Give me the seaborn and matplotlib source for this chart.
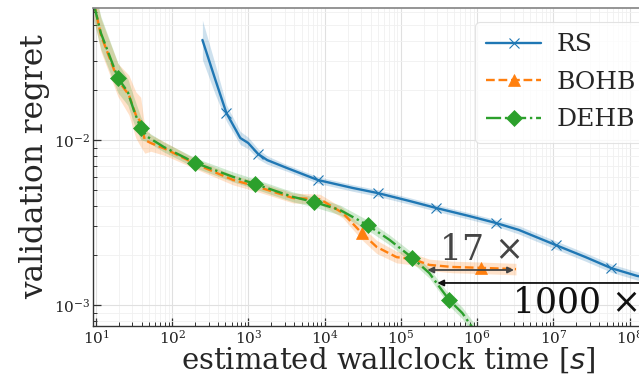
import numpy as np
import pandas as pd
import matplotlib
matplotlib.use("Agg")
import matplotlib.pyplot as plt
import seaborn as sns

# ---------------- data ----------------
rs_time = [249, 369, 513, 782, 993, 1343, 1759, 3214, 8147, 23330, 49500,
           129500, 291700, 787000, 1.77e6, 3.53e6, 1.07e7, 2.65e7, 5.78e7,
           1.26e8, 3.21e8]
rs_regret = [0.0404, 0.0231, 0.0146, 0.01028, 0.00959, 0.00822, 0.00756,
             0.00676, 0.00572, 0.00512, 0.00477, 0.00427, 0.00387, 0.00346,
             0.00314, 0.00285, 0.00231, 0.00195, 0.00167, 0.00150, 0.00140]
rs_spread = [0.12, 0.09, 0.05, 0.04, 0.035, 0.03, 0.025, 0.02, 0.02, 0.02,
             0.02, 0.02, 0.02, 0.02, 0.02, 0.025, 0.025, 0.025, 0.025, 0.025,
             0.025]
rs_marks = [2, 5, 8, 10, 12, 14, 16, 18]

bohb_time = [9.42, 11.6, 19.4, 27.0, 33.3, 38.6, 43.7, 52.3, 82.0, 202, 634,
             1227, 3846, 8650, 17300, 30600, 48000, 87700, 141600, 236000,
             472000, 1.13e6, 3.23e6]
bohb_regret = [0.0676, 0.0433, 0.0231, 0.01875, 0.0142, 0.01285, 0.0100,
               0.00959, 0.00881, 0.00716, 0.00572, 0.00526, 0.00445, 0.00438,
               0.00361, 0.00273, 0.00225, 0.00195, 0.00190, 0.00175, 0.00170,
               0.00168, 0.00165]
bohb_spread = [0.1, 0.1, 0.1, 0.12, 0.14, 0.15, 0.08, 0.05, 0.04, 0.03, 0.03,
               0.03, 0.03, 0.03, 0.03, 0.04, 0.04, 0.035, 0.035, 0.035, 0.035,
               0.035, 0.035]
bohb_marks = [15, 21]

dehb_time = [9.42, 11.6, 19.4, 26.2, 31.3, 38.6, 47.8, 77.3, 202, 634, 1227,
             3846, 7230, 15800, 36600, 71000, 141600, 236000, 319000, 431000,
             637000, 915000]
dehb_regret = [0.0658, 0.0445, 0.0238, 0.0195, 0.0152, 0.0118, 0.01043,
               0.00908, 0.00726, 0.00597, 0.00541, 0.00452, 0.00421, 0.00377,
               0.00305, 0.00248, 0.00193, 0.00156, 0.00129, 0.00107, 0.000895,
               0.000705]
dehb_spread = [0.1, 0.1, 0.09, 0.08, 0.08, 0.07, 0.03, 0.03, 0.03, 0.03, 0.03,
               0.03, 0.03, 0.03, 0.03, 0.03, 0.03, 0.03, 0.03, 0.035, 0.035,
               0.04]
dehb_marks = [2, 5, 8, 10, 12, 14, 16, 19]

speedup_bohb = {"label": "17 $\\times$", "x_from": 2.22e5, "x_to": 3.04e6,
                "y": 0.00163, "text_x": 3.19e5, "text_y": 0.00187}
speedup_rs = {"label": "1000 $\\times$", "x_from": 3.0e8, "x_to": 3.0e5,
              "y": 0.00136, "text_x": 2.86e6, "text_y": 0.000905}

# ---------------- style ----------------
sns.set_theme(style="white")
plt.rcParams["font.family"] = ["DejaVu Serif", "DejaVu Sans"]
plt.rcParams["mathtext.fontset"] = "custom"
plt.rcParams["mathtext.rm"] = "DejaVu Serif"
plt.rcParams["mathtext.it"] = "DejaVu Sans:italic"
plt.rcParams["mathtext.bf"] = "DejaVu Serif:bold"

fig = plt.figure(figsize=(6.39, 3.74), dpi=100)
ax = fig.add_axes([93 / 639, 48 / 374, 590 / 639, 318 / 374])

series = [
    ("RS", rs_time, rs_regret, rs_spread, rs_marks, "#1f77b4", "-", "x", 7),
    ("BOHB", bohb_time, bohb_regret, bohb_spread, bohb_marks, "#ff7f0e", "--", "^", 8),
    ("DEHB", dehb_time, dehb_regret, dehb_spread, dehb_marks, "#2ca02c", "-.", "D", 8),
]

for name, t, r, s, marks, col, ls, mk, ms in series:
    t = np.asarray(t, float)
    r = np.asarray(r, float)
    s = np.asarray(s, float)
    ax.fill_between(t, r / 10 ** s, r * 10 ** s, color=col, alpha=0.22, lw=0)
    df = pd.DataFrame({"time": t, "regret": r})
    sns.lineplot(data=df, x="time", y="regret", ax=ax, color=col, ls=ls,
                 lw=1.7, marker=mk, markersize=ms, markevery=marks,
                 markeredgewidth=0.8 if mk == "x" else 0.5,
                 markeredgecolor=col, sort=False, estimator=None, label=name)

ax.set_xscale("log")
ax.set_yscale("log")
ax.set_xlim(10 ** 0.961, 10 ** 8.7)
ax.set_ylim(0.000746, 0.0631)

ax.grid(True, which="major", color="#e0e0e0", lw=0.8)
ax.grid(True, which="minor", color="#f0f0f0", lw=0.6)
ax.set_axisbelow(True)

for side in ["left", "bottom"]:
    ax.spines[side].set_color("#333333")
    ax.spines[side].set_linewidth(1.0)
ax.spines["top"].set_color("#888888")
ax.spines["right"].set_color("#888888")

ax.tick_params(which="both", direction="in", left=True, bottom=True,
               colors="#333333", labelcolor="#222222")
ax.tick_params(which="major", length=6, width=0.9, labelsize=11, pad=2)
ax.tick_params(which="minor", length=3, width=0.7)

ax.set_xlabel("estimated wallclock time [$s$]", fontsize=21, labelpad=-1)
ax.set_ylabel("validation regret", fontsize=22.5, labelpad=3)

# speed-up annotations
ax.annotate("", xy=(speedup_bohb["x_from"], speedup_bohb["y"]),
            xytext=(speedup_bohb["x_to"], speedup_bohb["y"]),
            arrowprops=dict(arrowstyle="<|-|>", color="#444444", lw=1.3,
                            mutation_scale=9, shrinkA=0, shrinkB=0))
ax.text(speedup_bohb["text_x"], speedup_bohb["text_y"], speedup_bohb["label"],
        fontsize=25, color="#444444", ha="left", va="baseline")
ax.annotate("", xy=(speedup_rs["x_to"], speedup_rs["y"]),
            xytext=(speedup_rs["x_from"], speedup_rs["y"]),
            arrowprops=dict(arrowstyle="-|>", color="#111111", lw=1.3,
                            mutation_scale=9, shrinkA=0, shrinkB=0))
ax.text(speedup_rs["text_x"], speedup_rs["text_y"], speedup_rs["label"],
        fontsize=25, color="#111111", ha="left", va="baseline")

leg = ax.legend(loc="upper left", bbox_to_anchor=(475 / 639, 1 - 22 / 374),
                bbox_transform=fig.transFigure, borderaxespad=0, fontsize=18,
                frameon=True, handlelength=2.2, labelspacing=0.58,
                borderpad=0.45, handletextpad=0.6)
leg.get_frame().set_edgecolor("#dddddd")
leg.get_frame().set_linewidth(0.8)

fig.savefig("out.png", dpi=100)
